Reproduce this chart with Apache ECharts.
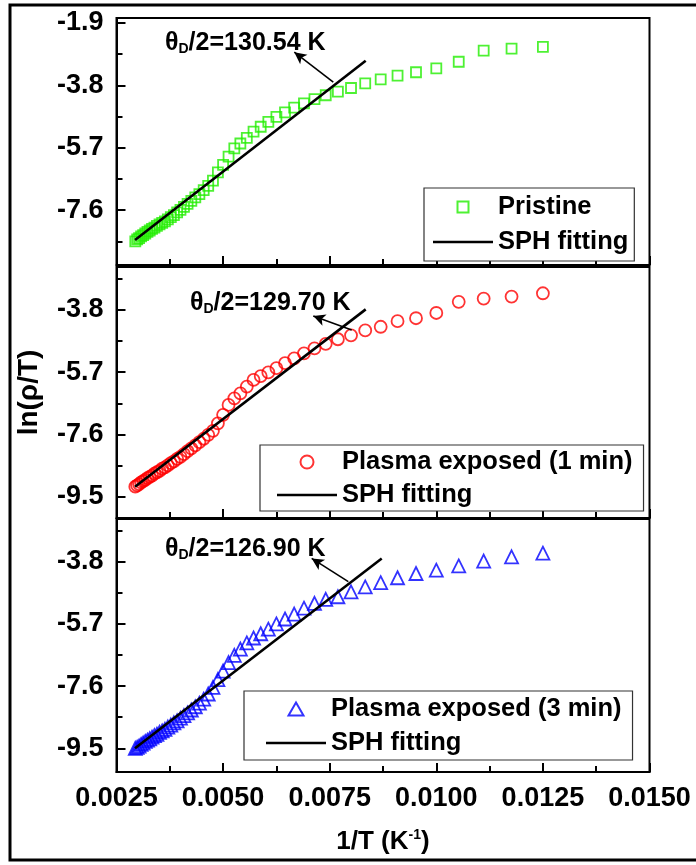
<!DOCTYPE html>
<html>
<head>
<meta charset="utf-8">
<script src="https://cdn.jsdelivr.net/npm/echarts@6/dist/echarts.min.js"></script>
<style>
  html, body { margin: 0; padding: 0; background: #fff; }
  #chart { width: 696px; height: 865px; }
</style>
</head>
<body>
<div id="chart"></div>
<script>
// 1/T (K^-1), measured from 80 K up to 340 K in 5 K steps
const invT = [
  0.012500, 0.011765, 0.011111, 0.010526, 0.010000, 0.009524, 0.009091, 0.008696,
  0.008333, 0.008000, 0.007692, 0.007407, 0.007143, 0.006897, 0.006667, 0.006452,
  0.006250, 0.006061, 0.005882, 0.005714, 0.005556, 0.005405, 0.005263, 0.005128,
  0.005000, 0.004878, 0.004762, 0.004651, 0.004545, 0.004444, 0.004348, 0.004255,
  0.004167, 0.004082, 0.004000, 0.003922, 0.003846, 0.003774, 0.003704, 0.003636,
  0.003571, 0.003509, 0.003448, 0.003390, 0.003333, 0.003279, 0.003226, 0.003175,
  0.003125, 0.003077, 0.003030, 0.002985, 0.002941
];

// ln(rho/T) for each sample, same order as invT
const pristine = [
  -2.63, -2.68, -2.74, -3.08, -3.28, -3.40, -3.50, -3.62,
  -3.74, -3.88, -3.99, -4.10, -4.22, -4.35, -4.48, -4.62,
  -4.76, -4.91, -5.06, -5.21, -5.40, -5.57, -5.72, -5.97,
  -6.22, -6.45, -6.70, -6.86, -6.99, -7.11, -7.21, -7.32,
  -7.41, -7.50, -7.59, -7.67, -7.75, -7.81, -7.88, -7.94,
  -7.99, -8.03, -8.08, -8.13, -8.17, -8.22, -8.26, -8.31,
  -8.36, -8.40, -8.45, -8.49, -8.55
];
const plasma1min = [
  -3.30, -3.40, -3.46, -3.56, -3.90, -4.06, -4.15, -4.32,
  -4.43, -4.58, -4.70, -4.84, -4.98, -5.13, -5.28, -5.43,
  -5.58, -5.71, -5.82, -5.94, -6.14, -6.35, -6.50, -6.70,
  -7.00, -7.26, -7.49, -7.61, -7.73, -7.83, -7.93, -8.02,
  -8.11, -8.20, -8.28, -8.34, -8.42, -8.47, -8.54, -8.60,
  -8.64, -8.71, -8.75, -8.79, -8.85, -8.89, -8.93, -8.98,
  -9.02, -9.06, -9.11, -9.15, -9.19
];
const plasma3min = [
  -3.54, -3.65, -3.78, -3.93, -4.06, -4.16, -4.29, -4.44,
  -4.57, -4.72, -4.87, -4.95, -5.07, -5.22, -5.40, -5.55,
  -5.70, -5.86, -6.00, -6.13, -6.28, -6.47, -6.66, -6.88,
  -7.14, -7.40, -7.64, -7.84, -8.00, -8.12, -8.23, -8.33,
  -8.42, -8.50, -8.58, -8.66, -8.72, -8.79, -8.85, -8.92,
  -8.97, -9.01, -9.07, -9.11, -9.16, -9.21, -9.25, -9.29,
  -9.34, -9.38, -9.43, -9.47, -9.50
];

// small-polaron-hopping fit lines: [start, end] as [1/T, ln(rho/T)]
const fitPristine = [[0.002934, -8.51], [0.008344, -3.05]];
const fitPlasma1min = [[0.002934, -9.19], [0.008344, -3.79]];
const fitPlasma3min = [[0.002934, -9.50], [0.008720, -3.70]];

// arrows from each fit line towards its Debye-temperature note
const arrowPristine = [[0.007584, -3.70], [0.006670, -2.79]];
const arrowPlasma1min = [[0.008016, -4.42], [0.007115, -3.99]];
const arrowPlasma3min = [[0.007936, -4.41], [0.007078, -3.70]];

const debyeNotes = ['130.54', '129.70', '126.90'];
const seriesNames = ['Pristine', 'Plasma exposed (1 min)', 'Plasma exposed (3 min)'];
const fitName = 'SPH fitting';

// axis ticks
const yMajorTicks = [-9.5, -7.6, -5.7, -3.8, -1.9];
const yMinorTicks = [-8.55, -6.65, -4.75, -2.85];
const xRange = [0.0025, 0.015];
const xStep = 0.0025;

const FONT = '"Liberation Sans", Arial, sans-serif';

// legend glyphs (drawn with kept aspect inside the legend icon box)
const ICONS = {
  rect: 'path://M0,0L10,0L10,10L0,10Z',
  circle: 'path://M0,6A6,6,0,1,1,12,6A6,6,0,1,1,0,6Z',
  triangle: 'path://M6,0L12,10.4L0,10.4Z',
  fit: 'path://M0,0L60,0L60,2.6L0,2.6Z'
};

const panels = [
  { top: 18,  height: 247, yMin: -9.27,  yMax: -1.748, data: pristine,   fit: fitPristine,   arrow: arrowPristine,
    symbol: 'rect', size: 10, color: '#22ee00', iconSize: 11,
    legend: { left: 424, top: 188, padding: [5, 6, 5, 9], gap: 7 }, note: { left: 165, top: 27 } },
  { top: 267, height: 251, yMin: -10.143, yMax: -2.50, data: plasma1min, fit: fitPlasma1min, arrow: arrowPlasma1min,
    symbol: 'circle', size: 12, color: '#ff0000', iconSize: 13,
    legend: { left: 260, top: 445, padding: [3, 11, 2, 17], gap: 5 }, note: { left: 190, top: 287 } },
  { top: 519, height: 253, yMin: -10.223, yMax: -2.496, data: plasma3min, fit: fitPlasma3min, arrow: arrowPlasma3min,
    symbol: 'triangle', size: 13, color: '#0000ff', iconSize: 13,
    legend: { left: 244, top: 691, padding: [4, 11, 3, 22], gap: 6 }, note: { left: 165, top: 533 } }
];

const GRID_LEFT = 116.5;
const GRID_WIDTH = 533;

const grid = [], xAxis = [], yAxis = [], series = [], legend = [], graphic = [];

panels.forEach((p, i) => {
  const isLast = i === panels.length - 1;
  grid.push({
    left: GRID_LEFT, top: p.top, width: GRID_WIDTH, height: p.height,
    show: true, borderColor: '#000', borderWidth: 2, backgroundColor: 'transparent'
  });
  xAxis.push({
    gridIndex: i, type: 'value', min: xRange[0], max: xRange[1], interval: xStep,
    axisLine: { show: true, lineStyle: { color: '#000', width: 2 } },
    axisTick: { show: true, inside: true, length: 9, lineStyle: { color: '#000', width: 2 } },
    minorTick: { show: true, splitNumber: 2, length: 6, lineStyle: { color: '#000', width: 2 } },
    splitLine: { show: false },
    axisLabel: {
      show: isLast, margin: 13, color: '#000', fontFamily: FONT, fontWeight: 'bold', fontSize: 27,
      formatter: v => v.toFixed(4)
    },
    name: isLast ? '1/T (K{sup|-1})' : '',
    nameLocation: 'middle', nameGap: 56,
    nameTextStyle: {
      color: '#000', fontFamily: FONT, fontWeight: 'bold', fontSize: 26,
      rich: { sup: { fontFamily: FONT, fontWeight: 'bold', fontSize: 14, color: '#000', padding: [0, 0, 14, 0] } }
    }
  });
  // labelled axis with major ticks
  yAxis.push({
    gridIndex: i, type: 'value', min: p.yMin, max: p.yMax, position: 'left',
    axisLine: { show: true, lineStyle: { color: '#000', width: 2 } },
    axisTick: { show: true, inside: true, length: 9, lineStyle: { color: '#000', width: 2 },
      customValues: yMajorTicks.filter(v => v >= p.yMin && v <= p.yMax) },
    axisLabel: { show: true, margin: 13, color: '#000', fontFamily: FONT, fontWeight: 'bold', fontSize: 27,
      customValues: yMajorTicks.filter(v => v >= p.yMin && v <= p.yMax),
      formatter: v => v.toFixed(1) },
    splitLine: { show: false },
    name: i === 1 ? 'ln(ρ/T)' : '',
    nameLocation: 'middle', nameGap: 73, nameRotate: 90,
    nameTextStyle: { color: '#000', fontFamily: FONT, fontWeight: 'bold', fontSize: 28 }
  });
  // companion axis carrying the shorter minor ticks
  yAxis.push({
    gridIndex: i, type: 'value', min: p.yMin, max: p.yMax, position: 'left',
    axisLine: { show: false },
    axisTick: { show: true, inside: true, length: 6, lineStyle: { color: '#000', width: 2 },
      customValues: yMinorTicks.filter(v => v >= p.yMin && v <= p.yMax) },
    axisLabel: { show: false },
    splitLine: { show: false }
  });

  series.push({
    name: seriesNames[i], type: 'scatter', xAxisIndex: i, yAxisIndex: 2 * i,
    symbol: p.symbol, symbolSize: p.size,
    itemStyle: { color: 'rgba(255,255,255,0)', borderColor: p.color, borderWidth: 1.8 },
    data: invT.map((x, k) => [x, p.data[k]]),
    z: 2
  });
  series.push({
    name: fitName, type: 'line', xAxisIndex: i, yAxisIndex: 2 * i,
    symbol: 'none', lineStyle: { color: '#000', width: 2.6 }, itemStyle: { color: '#000' },
    data: p.fit, z: 3,
    markLine: {
      silent: true, symbol: ['none', 'arrow'], symbolSize: [9, 12],
      label: { show: false },
      lineStyle: { color: '#000', width: 1.6, type: 'solid' },
      data: [[{ coord: p.arrow[0] }, { coord: p.arrow[1] }]]
    }
  });

  legend.push({
    data: [
      { name: seriesNames[i], icon: ICONS[p.symbol] },
      { name: fitName, icon: ICONS.fit, itemStyle: { color: '#000', borderWidth: 0 } }
    ],
    orient: 'vertical', left: p.legend.left, top: p.legend.top,
    itemWidth: 60, itemHeight: p.iconSize, itemGap: p.legend.gap, symbolKeepAspect: true,
    padding: p.legend.padding,
    borderColor: '#333', borderWidth: 1.2, backgroundColor: '#fff',
    selectedMode: false,
    textStyle: { color: '#000', fontFamily: FONT, fontWeight: 'bold', fontSize: 25.5, lineHeight: 28 }
  });

  graphic.push({
    type: 'text', left: p.note.left, top: p.note.top, z: 10,
    style: {
      text: '{t|θ}{s|D}{t|/2=' + debyeNotes[i] + ' K}',
      rich: {
        t: { fontFamily: FONT, fontWeight: 'bold', fontSize: 25, fill: '#000', lineHeight: 28, verticalAlign: 'bottom' },
        s: { fontFamily: FONT, fontWeight: 'bold', fontSize: 14, fill: '#000', lineHeight: 28, verticalAlign: 'bottom', padding: [15, 0, 0, 0] }
      }
    }
  });
});

// outer frame (its right edge runs past the page edge)
graphic.push({
  type: 'rect', z: 20, silent: true,
  shape: { x: 10, y: 5, width: 700, height: 855 },
  style: { fill: 'none', stroke: '#000', lineWidth: 3 }
});

const chart = echarts.init(document.getElementById('chart'), null, { renderer: 'canvas' });
chart.setOption({
  animation: false,
  backgroundColor: '#fff',
  grid, xAxis, yAxis, series, legend, graphic
});
</script>
</body>
</html>
